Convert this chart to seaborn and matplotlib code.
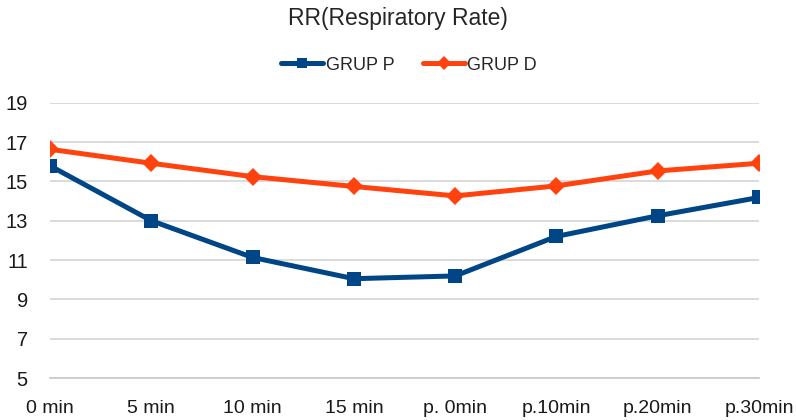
import pandas as pd
import matplotlib.pyplot as plt
import seaborn as sns

# data
times = ["0 min", "5 min", "10 min", "15 min", "p. 0min", "p.10min", "p.20min", "p.30min"]
grup_p = [15.79, 13.0, 11.13, 10.05, 10.19, 12.2, 13.25, 14.18]
grup_d = [16.63, 15.92, 15.24, 14.74, 14.26, 14.77, 15.53, 15.92]
groups = ["GRUP P", "GRUP D"]
palette = {"GRUP P": "#004586", "GRUP D": "#ff420e"}
markers = {"GRUP P": "s", "GRUP D": "D"}

df = pd.DataFrame({
    "Time": times * 2,
    "RR": grup_p + grup_d,
    "Group": [groups[0]] * len(times) + [groups[1]] * len(times),
})

sns.set_style("white")
plt.rcParams["font.family"] = ["Liberation Sans", "DejaVu Sans"]

fig = plt.figure(figsize=(7.96, 4.2), dpi=100)
ax = fig.add_axes([50 / 796, 0.1, (759 - 50) / 796, 0.6555])

sns.lineplot(data=df, x="Time", y="RR", hue="Group", style="Group",
             palette=palette, markers=markers, dashes=False, sort=False,
             linewidth=3.6, markersize=9.5, markeredgewidth=0, ax=ax)

ax.set_xlim(0, len(times) - 1)
ax.set_ylim(5, 19)
ax.set_yticks(range(5, 20, 2))
ax.yaxis.grid(True, color="#d4d4d4", linewidth=1.2)
ax.set_axisbelow(True)
for side in ["left", "right", "top"]:
    ax.spines[side].set_visible(False)
ax.spines["bottom"].set_color("#c8c8c8")
ax.spines["bottom"].set_linewidth(1.2)
ax.tick_params(axis="x", direction="in", length=6, color="#c8c8c8", width=1, pad=16)
ax.tick_params(axis="y", length=0, pad=16)
ax.set_xlabel("")
ax.set_ylabel("")
for lbl in ax.get_yticklabels():
    lbl.set_fontsize(14.5)
    lbl.set_color("#1a1a1a")
for lbl in ax.get_xticklabels():
    lbl.set_fontsize(14)
    lbl.set_color("#1a1a1a")

handles, labels = ax.get_legend_handles_labels()
ax.legend(handles, labels, ncol=2, frameon=False, fontsize=13,
          loc="center", bbox_to_anchor=(0.514, 1 - 65 / 420),
          bbox_transform=fig.transFigure, handlelength=2.3,
          handletextpad=0.15, columnspacing=1.6)
for h in ax.get_legend().legend_handles:
    h.set_markersize(7)

fig.suptitle("RR(Respiratory Rate)", fontsize=16.5, y=1 - 19 / 420, va="center")

plt.savefig("out.png", dpi=100)
